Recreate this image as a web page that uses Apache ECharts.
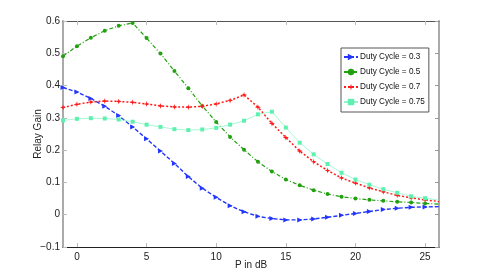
<!DOCTYPE html>
<html>
<head>
<meta charset="utf-8">
<script src="https://cdn.jsdelivr.net/npm/echarts@6/dist/echarts.min.js"></script>
<style>html,body{margin:0;padding:0;background:#fff;}#c{width:485px;height:277px;}</style>
</head>
<body>
<div id="c"></div>
<script>
const xs = [-1,0,1,2,3,4,5,6,7,8,9,10,11,12,13,14,15,16,17,18,19,20,21,22,23,24,25,26];
const duty03 = [0.394,0.380,0.360,0.336,0.307,0.272,0.235,0.197,0.159,0.118,0.082,0.054,0.028,0.009,-0.005,-0.012,-0.016,-0.016,-0.013,-0.008,-0.002,0.004,0.010,0.016,0.020,0.023,0.024,0.025];
const duty05 = [0.491,0.522,0.548,0.570,0.585,0.594,0.547,0.499,0.445,0.392,0.337,0.287,0.241,0.201,0.164,0.134,0.109,0.091,0.076,0.064,0.056,0.050,0.046,0.043,0.040,0.038,0.035,0.033];
const duty07 = [0.332,0.342,0.349,0.352,0.351,0.348,0.343,0.337,0.334,0.333,0.336,0.343,0.354,0.371,0.333,0.283,0.239,0.197,0.164,0.137,0.114,0.098,0.083,0.071,0.060,0.052,0.046,0.041];
const duty075 = [0.292,0.297,0.299,0.298,0.295,0.288,0.279,0.272,0.265,0.262,0.264,0.269,0.279,0.291,0.311,0.319,0.270,0.223,0.187,0.157,0.130,0.109,0.093,0.079,0.068,0.057,0.051,0.045];
const names = ['Duty Cycle = 0.3','Duty Cycle = 0.5','Duty Cycle = 0.7','Duty Cycle = 0.75'];
const xTicks = [0,5,10,15,20,25];

const pairs = arr => xs.map((x,i)=>[x,arr[i]]);
const sz = s => (v => v[0] > 25 ? 0 : s);
const star = 'path://M5,0 L6,3.6 L10,5 L6,6.4 L5,10 L4,6.4 L0,5 L4,3.6 Z';

const chart = echarts.init(document.getElementById('c'), null, {renderer:'canvas'});
const font = 'Liberation Sans, Arial, sans-serif';
chart.setOption({
  animation:false,
  backgroundColor:'#fff',
  textStyle:{fontFamily:font},
  grid:{left:63,right:46,top:21,bottom:30,containLabel:false},
  legend:{
    orient:'vertical', left:341, top:48,
    data:names,
    backgroundColor:'#fff', borderColor:'#555', borderWidth:1,
    padding:[5,4,6,2], itemGap:7, itemWidth:14, itemHeight:8,
    textStyle:{fontSize:8.2, color:'#111', fontFamily:font, padding:[0,0,0,-3]}
  },
  xAxis:[{
    type:'value', min:-1, max:26, position:'bottom',
    name:'P in dB', nameLocation:'middle', nameGap:13, nameMoveOverlap:false,
    nameTextStyle:{fontSize:10,color:'#222',fontFamily:font},
    axisLine:{show:true,onZero:false,lineStyle:{color:'#222',width:1}},
    axisTick:{show:true,inside:true,length:4,customValues:xTicks,lineStyle:{color:'#bbb',width:1}},
    axisLabel:{customValues:xTicks,fontSize:10,color:'#222',margin:5,fontFamily:font},
    splitLine:{show:false}
  },{
    type:'value', min:-1, max:26, position:'top',
    axisLine:{show:true,onZero:false,lineStyle:{color:'#555',width:1}},
    axisTick:{show:true,inside:true,length:4,customValues:xTicks,lineStyle:{color:'#bbb',width:1}},
    axisLabel:{show:false}, splitLine:{show:false}
  }],
  yAxis:[{
    type:'value', min:-0.1, max:0.6, interval:0.1, position:'left',
    name:'Relay Gain', nameLocation:'middle', nameGap:20, nameRotate:90, nameMoveOverlap:false,
    nameTextStyle:{fontSize:10,color:'#222',fontFamily:font},
    axisLine:{show:true,onZero:false,lineStyle:{color:'#aaa',width:2}},
    axisTick:{show:true,inside:true,length:4,lineStyle:{color:'#bbb',width:1}},
    axisLabel:{fontSize:10,color:'#222',margin:3,fontFamily:font,
      formatter:v=>{const r=Math.round(v*10)/10; return r<0?'\u2212'+Math.abs(r):String(r);}},
    splitLine:{show:false}
  },{
    type:'value', min:-0.1, max:0.6, interval:0.1, position:'right',
    axisLine:{show:true,onZero:false,lineStyle:{color:'#aaa',width:2}},
    axisTick:{show:true,inside:true,length:4,lineStyle:{color:'#999',width:1}},
    axisLabel:{show:false}, splitLine:{show:false}
  }],
  series:[
    {name:names[0],type:'line',data:pairs(duty03),symbol:'triangle',symbolRotate:-90,symbolSize:sz(5),
     itemStyle:{color:'#2236ff'},lineStyle:{color:'#2236ff',width:1.4,type:[4,2]}},
    {name:names[1],type:'line',data:pairs(duty05),symbol:'circle',symbolSize:sz(4),
     itemStyle:{color:'#22a010'},lineStyle:{color:'#22a010',width:1.2,type:[4,2,1,2]}},
    {name:names[2],type:'line',data:pairs(duty07),symbol:star,symbolSize:sz(6),
     itemStyle:{color:'#ff1a1a'},lineStyle:{color:'#ff1a1a',width:1.5,type:[2,2]}},
    {name:names[3],type:'line',data:pairs(duty075),symbol:'rect',symbolSize:sz(4),
     itemStyle:{color:'#5ff0b0'},lineStyle:{color:'#8ff7cc',width:0.8,type:'solid'}}
  ]
});
</script>
</body>
</html>
